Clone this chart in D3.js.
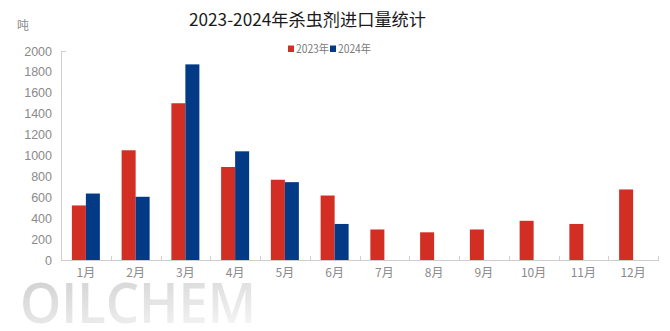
<!DOCTYPE html>
<html><head><meta charset="utf-8">
<script src="https://cdn.jsdelivr.net/npm/d3@7"></script>
<style>body{margin:0;background:#fff}svg{display:block}</style>
</head><body>
<svg id="c" width="670" height="331"></svg>
<script>
const months = ["1月","2月","3月","4月","5月","6月","7月","8月","9月","10月","11月","12月"];
const seriesNames = ["2023年","2024年"];
const values2023 = [522,1050,1500,890,768,617,292,265,292,375,345,675];
const values2024 = [636,605,1872,1040,745,345,0,0,0,0,0,0];
const yTicks = [0,200,400,600,800,1000,1200,1400,1600,1800,2000];
const colors = ["#d22e24","#033a86"];

(function(){
const svg = d3.select("#c");
const pLeft = 61, pRight = 658, pTop = 51, pBottom = 260;
const x = d3.scaleBand().domain(months).range([pLeft,pRight]).paddingInner(0).paddingOuter(0);
const x1 = d3.scaleBand().domain(seriesNames).range([0,28]);
const y = d3.scaleLinear().domain([0,2000]).range([pBottom,pTop]);

// watermark
const defs = svg.append("defs");
const g = defs.append("linearGradient").attr("id","wm").attr("x1",0).attr("y1",0).attr("x2",0.4).attr("y2",1);
g.append("stop").attr("offset","0%").attr("stop-color","#c9c9c9");
g.append("stop").attr("offset","100%").attr("stop-color","#f3f3f3");
svg.append("text").attr("x",20).attr("y",323).attr("font-family","Open Sans, sans-serif")
  .attr("font-size",56).attr("font-weight",600).attr("textLength",236).attr("lengthAdjust","spacingAndGlyphs")
  .attr("fill","url(#wm)").text("OILCHEM");

// title
svg.append("text").attr("x",189).attr("y",26)
  .attr("font-family","Noto Sans CJK SC, sans-serif").attr("font-size",17).attr("fill","#1a1a1a")
  .attr("textLength",237).attr("lengthAdjust","spacingAndGlyphs")
  .text("2023-2024年杀虫剂进口量统计");
svg.append("text").attr("x",17).attr("y",30).attr("font-family","Noto Sans CJK SC, sans-serif")
  .attr("font-size",12).attr("fill","#8a8a8a").text("吨");

// legend
const leg = svg.append("g").attr("font-family","Noto Sans CJK SC, sans-serif").attr("font-size",11.5);
const legX = [288,330];
seriesNames.forEach((s,i)=>{
  leg.append("rect").attr("x",legX[i]).attr("y",45.5).attr("width",6).attr("height",6.5).attr("fill",colors[i]);
  leg.append("text").attr("x",legX[i]+8).attr("y",52.5).attr("fill","#7a7a7a")
    .attr("textLength",33).attr("lengthAdjust","spacingAndGlyphs").text(s);
});

// y axis
const ya = svg.append("g").attr("font-family","Liberation Sans, Arial, sans-serif").attr("font-size",12.5);
yTicks.forEach(t=>{
  ya.append("text").attr("x",52).attr("y",y(t)+4.5).attr("text-anchor","end").attr("fill","#8a8a8a").text(t);
});
svg.append("line").attr("x1",pLeft+0.5).attr("x2",pLeft+0.5).attr("y1",y(2000)).attr("y2",pBottom).attr("stroke","#d0d0d0");
svg.append("line").attr("x1",pLeft).attr("x2",pLeft+5).attr("y1",y(2000)+0.5).attr("y2",y(2000)+0.5).attr("stroke","#d0d0d0");

// bars
const data = months.map((m,i)=>({m, v:[values2023[i],values2024[i]]}));
const grp = svg.append("g");
data.forEach(d=>{
  seriesNames.forEach((s,i)=>{
    const v = d.v[i];
    if(!v) return;
    grp.append("rect").attr("x",x(d.m)+x.bandwidth()/2-14+x1(s)).attr("y",y(v))
      .attr("width",x1.bandwidth()).attr("height",pBottom-y(v)).attr("fill",colors[i]);
  });
});

// x axis
svg.append("line").attr("x1",pLeft).attr("x2",pRight+1).attr("y1",pBottom+0.5).attr("y2",pBottom+0.5).attr("stroke","#cfcfcf");
months.forEach((m,i)=>{
  const xb = Math.round(x(m)+x.bandwidth())+0.5;
  svg.append("line").attr("x1",xb).attr("x2",xb).attr("y1",pBottom-4).attr("y2",pBottom).attr("stroke","#cfcfcf");
  svg.append("text").attr("x",x(m)+x.bandwidth()/2).attr("y",277).attr("text-anchor","middle")
    .attr("font-family","Noto Sans CJK SC, sans-serif").attr("font-size",12).attr("fill","#8a8a8a").text(m);
});
})();
</script>
</body></html>
